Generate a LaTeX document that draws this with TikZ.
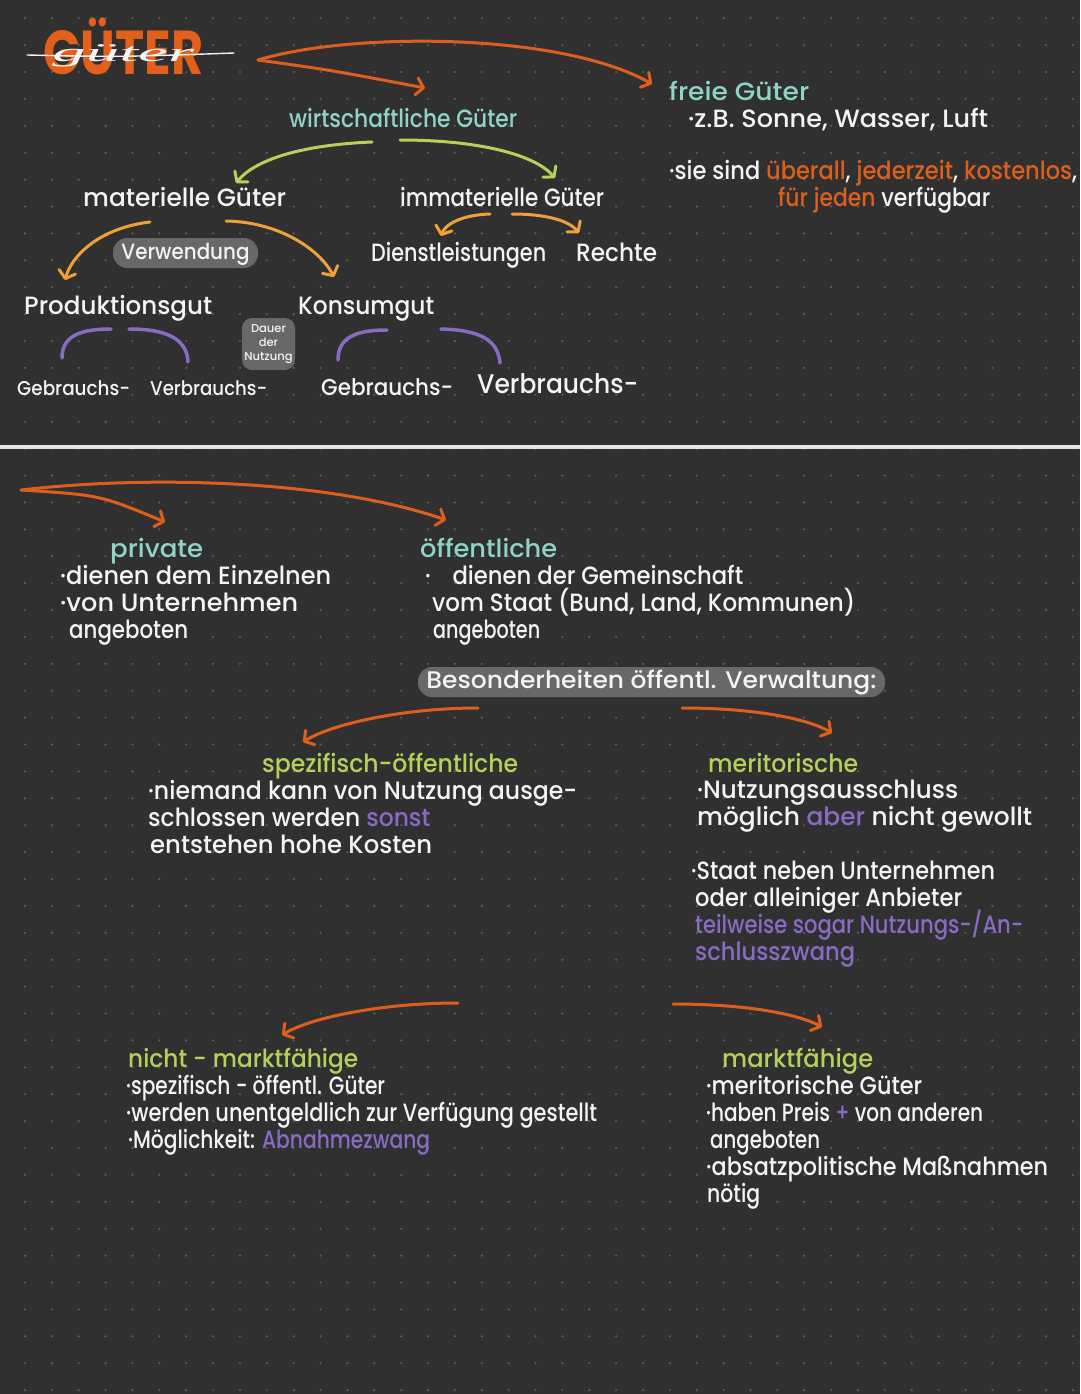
\documentclass[tikz,border=0pt]{standalone}
\usepackage{fontspec}
\usepackage{graphicx}
\setmainfont{Poppins}[UprightFont={* Medium}, BoldFont={* Bold}]
\newfontfamily\hwfont{Liberation Serif}
\usetikzlibrary{arrows.meta}
\definecolor{bg}{HTML}{303030}
\definecolor{dotc}{HTML}{5E5E5E}
\definecolor{fg}{HTML}{F4F4F4}
\definecolor{orng}{HTML}{DD5F1E}
\definecolor{ttl}{HTML}{E2601B}
\definecolor{teal}{HTML}{8FD5C5}
\definecolor{lime}{HTML}{B5D15A}
\definecolor{amber}{HTML}{F0A03A}
\definecolor{purp}{HTML}{8A6BC4}
\definecolor{pillc}{HTML}{686868}
\definecolor{sepc}{HTML}{E6E6E6}
\newcommand\fitw[2]{\resizebox{#1pt}{\height}{#2}}
\begin{document}
\begin{tikzpicture}[x=1pt,y=-1pt,
  txt/.style={anchor=base west, inner sep=0pt, text=fg, font=\fontsize{25}{29}\selectfont},
  thead/.style={txt, text=teal},
  lhead/.style={txt, text=lime},
  pill/.style={fill=pillc, text=fg, rounded corners=14pt, inner sep=0pt, text height=17pt, text depth=5pt, font=\fontsize{24}{27}\selectfont},
  arr/.style={draw=orng, line width=3pt, line cap=round, -{Straight Barb[length=7pt,width=17pt,round]}},
  garr/.style={arr, draw=lime},
  aarr/.style={arr, draw=amber},
  brk/.style={draw=purp, line width=3.5pt, line cap=round}
]
\useasboundingbox (0,0) rectangle (1080,1394);
\fill[bg] (0,0) rectangle (1080,1394);
\foreach \i in {0,...,39}{\foreach \j in {0,...,51}{\fill[dotc] ({25+26.87*\i},{18.2+26.9*\j}) circle (1.2pt);}}
\draw[sepc, line width=3.3pt] (0,447) -- (1080,447);

% ---------- title ----------
\node[txt, text=ttl, font=\fontsize{62}{62}\selectfont\bfseries] (gut) at (43,75) {\fitw{160}{GÜTER}};
\node[txt, text=fg, font=\hwfont\fontsize{26}{26}\selectfont\itshape] (gscr) at (52,62) {\fitw{142}{güter}};
\coordinate (strA) at (27,55);
\coordinate (strB) at (234,53);
\draw[fg, line width=1.4pt, line cap=round] (strA) .. controls (120,57) .. (strB);

% ---------- top arrows ----------
\coordinate (gutR) at (258,60);
\coordinate (fgIn) at (652,84);
\coordinate (wgIn) at (425,88);
\draw[arr] (gutR) .. controls (350,32) and (560,32) .. (fgIn);
\draw[arr] (gutR) .. controls (330,70) .. (wgIn);

% ---------- freie Güter ----------
\node[thead] (fg) at (669,100) {\fitw{140}{freie Güter}};
\node[txt] (fg1) at (688,127) {\fitw{300}{·z.B. Sonne, Wasser, Luft}};
\node[txt] (fg2) at (669,179) {\fitw{408}{·sie sind \textcolor{orng}{überall}, \textcolor{orng}{jederzeit}, \textcolor{orng}{kostenlos},}};
\node[txt] (fg3) at (778,206) {\fitw{212}{\textcolor{orng}{für jeden} verfügbar}};

% ---------- wirtschaftliche Güter ----------
\node[thead] (wg) at (289,127) {\fitw{228}{wirtschaftliche Güter}};
\coordinate (wgL) at (372,142);
\coordinate (matIn) at (236,183);
\coordinate (wgR) at (400,140);
\coordinate (immIn) at (555,178);
\draw[garr] (wgL) .. controls (300,145) and (255,160) .. (matIn);
\draw[garr] (wgR) .. controls (480,140) and (535,155) .. (immIn);

\node[txt] (mat) at (83,206) {\fitw{203}{materielle Güter}};
\node[txt] (imm) at (400,206) {\fitw{204}{immaterielle Güter}};

\coordinate (matL) at (150,222);
\coordinate (prodIn) at (65,280);
\coordinate (matR) at (226,221);
\coordinate (konsIn) at (334,277);
\draw[aarr] (matL) .. controls (100,228) and (72,255) .. (prodIn);
\draw[aarr] (matR) .. controls (280,222) and (320,250) .. (konsIn);
\coordinate (immL) at (490,214);
\coordinate (dlIn) at (441,236);
\coordinate (immR) at (512,214);
\coordinate (reIn) at (579,233);
\draw[aarr] (immL) .. controls (460,215) and (445,225) .. (dlIn);
\draw[aarr] (immR) .. controls (550,214) and (570,222) .. (reIn);

\node[pill, minimum width=145pt, minimum height=30pt, font=\fontsize{22}{22}\selectfont, text height=16pt, text depth=4pt] (verw) at (185.5,253) {\fitw{128}{Verwendung}};
\node[txt] (dl) at (371,261) {\fitw{175}{Dienstleistungen}};
\node[txt] (re) at (576,261) {\fitw{81}{Rechte}};
\node[txt] (prod) at (24,314) {\fitw{188}{Produktionsgut}};
\node[txt] (kons) at (298,314) {\fitw{136}{Konsumgut}};

\draw[brk] (62,358) .. controls (62,336) and (80,329) .. (111,329);
\draw[brk] (129,329) .. controls (165,329) and (187,338) .. (188,362);
\draw[brk] (338,360) .. controls (338,338) and (355,330) .. (387,330);
\draw[brk] (441,329) .. controls (480,330) and (498,340) .. (500,363);

\node[fill=pillc, text=fg, rounded corners=10pt, minimum width=53pt, minimum height=52pt, inner sep=1pt, align=center, font=\fontsize{11.5}{14}\selectfont] (dauer) at (268.5,344) {Dauer\\der\\Nutzung};

\node[txt, font=\fontsize{20}{20}\selectfont] (gb1) at (17,395) {\fitw{113}{Gebrauchs-}};
\node[txt, font=\fontsize{20}{20}\selectfont] (vb1) at (150,395) {\fitw{117}{Verbrauchs-}};
\node[txt, font=\fontsize{23}{23}\selectfont] (gb2) at (321,395) {\fitw{132}{Gebrauchs-}};
\node[txt, font=\fontsize{27}{27}\selectfont] (vb2) at (477,393) {\fitw{161}{Verbrauchs-}};

% ---------- section 2 ----------
\coordinate (sTwo) at (21,490);
\coordinate (privIn) at (165,522);
\coordinate (oeffIn) at (446,520);
\draw[arr] (sTwo) .. controls (150,475) and (330,480) .. (oeffIn);
\draw[arr] (sTwo) .. controls (100,495) .. (privIn);

\node[thead] (priv) at (110,557) {\fitw{93}{private}};
\node[txt] (p1) at (60,584) {\fitw{271}{·dienen dem Einzelnen}};
\node[txt] (p2) at (60,611) {\fitw{238}{·von Unternehmen}};
\node[txt] (p3) at (69,638) {\fitw{119}{angeboten}};

\node[thead] (oeff) at (420,557) {\fitw{137}{öffentliche}};
\node[txt] (o1) at (425,584) {\fitw{318}{·\hspace{24pt}dienen der Gemeinschaft}};
\node[txt] (o2) at (432,611) {\fitw{423}{vom Staat (Bund, Land, Kommunen)}};
\node[txt] (o3) at (433,638) {\fitw{107}{angeboten}};

\node[pill, minimum width=467pt, minimum height=30pt] (bes) at (651.5,682) {\fitw{450}{Besonderheiten öffentl. Verwaltung:}};

\coordinate (besL) at (478,708);
\coordinate (spIn) at (303,742);
\coordinate (besR) at (682,708);
\coordinate (merIn) at (832,733);
\draw[arr] (besL) .. controls (400,708) and (330,725) .. (spIn);
\draw[arr] (besR) .. controls (760,708) and (810,720) .. (merIn);

\node[lhead] (sp) at (262,772) {\fitw{256}{spezifisch-öffentliche}};
\node[txt] (s1) at (148,799) {\fitw{429}{·niemand kann von Nutzung ausge-}};
\node[txt] (s2) at (148,826) {\fitw{282}{schlossen werden \textcolor{purp}{sonst}}};
\node[txt] (s3) at (150,853) {\fitw{282}{entstehen hohe Kosten}};

\node[lhead] (mer) at (708,772) {\fitw{150}{meritorische}};
\node[txt] (m1) at (697,798) {\fitw{261}{·Nutzungsausschluss}};
\node[txt] (m2) at (697,825) {\fitw{335}{möglich \textcolor{purp}{aber} nicht gewollt}};
\node[txt] (m3) at (691,879) {\fitw{304}{·Staat neben Unternehmen}};
\node[txt] (m4) at (695,906) {\fitw{267}{oder alleiniger Anbieter}};
\node[txt, text=purp] (m5) at (695,933) {\fitw{328}{teilweise sogar Nutzungs-/An-}};
\node[txt, text=purp] (m6) at (695,960) {\fitw{160}{schlusszwang}};

\coordinate (dL) at (458,1003);
\coordinate (nmIn) at (282,1035);
\coordinate (dR) at (673,1004);
\coordinate (mfIn) at (822,1027);
\draw[arr] (dL) .. controls (380,1003) and (310,1018) .. (nmIn);
\draw[arr] (dR) .. controls (750,1004) and (800,1015) .. (mfIn);

\node[lhead] (nm) at (128,1067) {\fitw{230}{nicht - marktfähige}};
\node[txt] (n1) at (126,1094) {\fitw{259}{·spezifisch - öffentl. Güter}};
\node[txt] (n2) at (126,1121) {\fitw{471}{·werden unentgeldlich zur Verfügung gestellt}};
\node[txt] (n3) at (128,1148) {\fitw{302}{·Möglichkeit: \textcolor{purp}{Abnahmezwang}}};

\node[lhead] (mf) at (722,1067) {\fitw{151}{marktfähige}};
\node[txt] (f1) at (706,1094) {\fitw{216}{·meritorische Güter}};
\node[txt] (f2) at (706,1121) {\fitw{277}{·haben Preis \textcolor{purp}{+} von anderen}};
\node[txt] (f3) at (710,1148) {\fitw{110}{angeboten}};
\node[txt] (f4) at (706,1175) {\fitw{342}{·absatzpolitische Maßnahmen}};
\node[txt] (f5) at (707,1202) {\fitw{53}{nötig}};
\end{tikzpicture}
\end{document}
